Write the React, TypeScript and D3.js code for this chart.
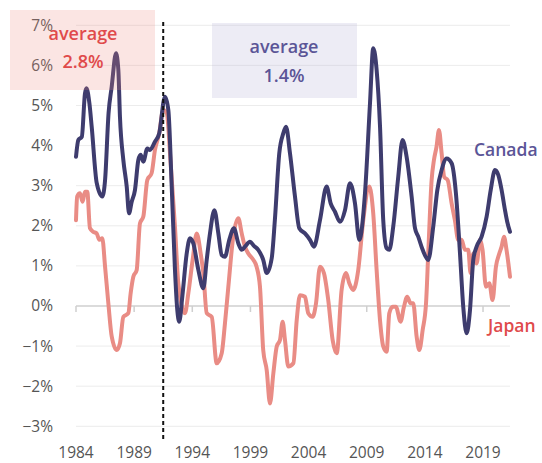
import * as React from "react";
import * as d3 from "d3";

// [decimal year, %]
const canada: [number, number][] = [
  [1984.0, 3.72], [1984.2, 4.14], [1984.5, 4.22], [1984.77, 5.3], [1984.9, 5.43],
  [1985.15, 5.06], [1985.35, 4.47], [1985.78, 3.07], [1986.26, 2.73], [1986.5, 3.14],
  [1986.8, 4.81], [1987.07, 5.47], [1987.44, 6.3], [1987.64, 5.89], [1987.78, 4.72],
  [1988.07, 3.64], [1988.36, 2.98], [1988.56, 2.31], [1988.79, 2.6], [1989.07, 2.89],
  [1989.36, 3.64], [1989.56, 3.77], [1989.79, 3.6], [1990.13, 3.93], [1990.36, 3.89],
  [1990.79, 4.1], [1991.16, 4.31], [1991.65, 5.22], [1991.94, 4.89], [1992.23, 2.98],
  [1992.51, 0.9], [1992.71, -0.1], [1992.88, -0.39], [1993.14, 0.23], [1993.52, 1.31],
  [1993.8, 1.69], [1994.09, 1.56], [1994.52, 0.9], [1994.95, 0.44], [1995.24, 1.15],
  [1995.52, 1.81], [1995.9, 2.39], [1996.24, 1.81], [1996.53, 1.27], [1996.81, 1.23],
  [1997.18, 1.65], [1997.58, 1.94], [1997.96, 1.56], [1998.25, 1.4], [1998.53, 1.48],
  [1998.96, 1.6], [1999.3, 1.5], [1999.67, 1.4], [2000.1, 1.15], [2000.4, 0.82],
  [2000.83, 1.19], [2001.1, 2.14], [2001.48, 3.81], [2001.83, 4.31], [2002.06, 4.47],
  [2002.4, 3.81], [2002.83, 2.73], [2003.2, 1.94], [2003.69, 1.81], [2004.12, 1.65],
  [2004.46, 1.48], [2004.98, 2.14], [2005.55, 2.98], [2005.9, 2.56], [2006.27, 2.35],
  [2006.7, 2.1], [2007.13, 2.39], [2007.56, 3.06], [2007.99, 2.56], [2008.36, 1.65],
  [2008.85, 2.81], [2009.28, 5.05], [2009.56, 6.43], [2009.85, 5.89], [2010.14, 4.5],
  [2010.42, 2.14], [2010.71, 1.44], [2010.94, 1.4], [2011.28, 1.98], [2011.71, 3.22],
  [2012.08, 4.14], [2012.43, 3.72], [2012.86, 2.73], [2013.15, 1.94], [2013.43, 1.73],
  [2013.81, 1.4], [2014.29, 1.15], [2014.72, 1.98], [2015.07, 2.89], [2015.44, 3.39],
  [2015.87, 3.68], [2016.3, 3.56], [2016.67, 2.81], [2017.02, 1.31], [2017.3, -0.02],
  [2017.59, -0.68], [2017.88, -0.1], [2018.16, 1.15], [2018.45, 1.48], [2018.88, 1.73],
  [2019.31, 2.23], [2019.66, 2.89], [2020.03, 3.39], [2020.31, 3.27], [2020.6, 2.89],
  [2020.89, 2.39], [2021.08, 2.1], [2021.32, 1.85],
];

const japan: [number, number][] = [
  [1984.0, 2.14], [1984.1, 2.73], [1984.34, 2.81], [1984.57, 2.6], [1984.77, 2.85],
  [1984.97, 2.85], [1985.2, 1.94], [1985.49, 1.85], [1985.78, 1.81], [1986.0, 1.65],
  [1986.26, 1.69], [1986.5, 0.98], [1986.78, 0.07], [1987.07, -0.76], [1987.5, -1.1],
  [1987.78, -0.93], [1988.07, -0.27], [1988.5, -0.18], [1988.7, 0.32], [1988.93, 0.73],
  [1989.22, 0.9], [1989.5, 2.06], [1989.79, 2.23], [1990.13, 3.14], [1990.5, 3.31],
  [1990.79, 3.89], [1991.16, 4.31], [1991.5, 4.89], [1991.8, 4.81], [1992.14, 3.56],
  [1992.51, 1.98], [1992.8, 0.57], [1993.37, -0.18], [1993.66, 0.32], [1994.03, 1.15],
  [1994.38, 1.81], [1994.72, 1.31], [1994.95, 0.82], [1995.24, -0.18], [1995.67, -0.27],
  [1996.1, -1.43], [1996.53, -1.18], [1996.81, -0.43], [1997.1, 0.48], [1997.52, 1.73],
  [1997.96, 2.19], [1998.25, 1.81], [1998.53, 1.48], [1998.82, 1.31], [1999.25, 1.15],
  [1999.53, 0.98], [1999.82, 0.48], [2000.1, -1.1], [2000.4, -1.6], [2000.68, -2.43],
  [2000.97, -1.68], [2001.26, -1.01], [2001.54, -0.85], [2001.77, -0.39], [2001.97, -0.85],
  [2002.26, -1.51], [2002.69, -1.43], [2002.98, -0.35], [2003.26, 0.27], [2003.69, 0.23],
  [2003.97, -0.18], [2004.35, -0.27], [2004.64, 0.07], [2004.98, 0.98], [2005.32, 0.82],
  [2005.69, 0.15], [2006.07, -0.85], [2006.42, -1.18], [2006.84, 0.4], [2007.22, 0.82],
  [2007.5, 0.57], [2007.84, 0.4], [2008.27, 0.9], [2008.7, 2.14], [2009.22, 2.98],
  [2009.56, 2.31], [2009.85, 0.9], [2010.14, -0.35], [2010.42, -1.01], [2010.71, -1.14],
  [2010.94, -0.18], [2011.23, -0.02], [2011.51, -0.02], [2011.91, -0.39], [2012.2, -0.02],
  [2012.48, 0.23], [2012.77, 0.07], [2013.0, 0.07], [2013.29, -0.76], [2013.52, -1.1],
  [2013.81, -0.6], [2014.1, 0.07], [2014.29, 1.31], [2014.58, 3.14], [2014.78, 3.64],
  [2015.0, 3.97], [2015.21, 4.39], [2015.44, 3.81], [2015.66, 3.22], [2015.96, 3.14],
  [2016.3, 2.56], [2016.58, 2.14], [2016.87, 1.65], [2017.16, 1.65], [2017.45, 1.4],
  [2017.73, 1.4], [2017.93, 0.82], [2018.16, 1.31], [2018.45, 1.06], [2018.74, 1.65],
  [2018.96, 1.4], [2019.25, 0.48], [2019.54, 0.57], [2019.82, 0.15], [2020.11, 0.98],
  [2020.4, 1.31], [2020.6, 1.48], [2020.8, 1.73], [2021.02, 1.4], [2021.32, 0.73],
];

const yearTicks = [1984, 1989, 1994, 1999, 2004, 2009, 2014, 2019];
const pctTicks = [-3, -2, -1, 0, 1, 2, 3, 4, 5, 6, 7];
const regimeBreak = 1991.5;
const averages = { japan: "2.8%", canada: "1.4%" };

const width = 542;
const height = 463;
const font = "'Open Sans', sans-serif";

export default function App() {
  const x = d3.scaleLinear().domain([1984, 2021.32]).range([76, 510]);
  const y = d3.scaleLinear().domain([-3, 7]).range([426.3, 25.3]);
  const line = d3
    .line<[number, number]>()
    .x((d) => x(d[0]))
    .y((d) => y(d[1]))
    .curve(d3.curveMonotoneX);

  const fmt = (v: number) => (v < 0 ? "\u2212" + Math.abs(v) : String(v)) + "%";

  return (
    <svg
      width={width}
      height={height}
      style={{ position: "absolute", left: 0, top: 0, background: "#fff" }}
      fontFamily={font}
    >
      {pctTicks.map((t) => (
        <g key={t}>
          <line
            x1={x.range()[0]}
            x2={x.range()[1]}
            y1={y(t)}
            y2={y(t)}
            stroke={t === 0 ? "#cfcfcf" : "#ececec"}
            strokeWidth={t === 0 ? 1.5 : 1}
          />
          <text x={53} y={y(t)} dy="0.35em" textAnchor="end" fontSize={15.5} fill="#555">
            {fmt(t)}
          </text>
        </g>
      ))}
      {yearTicks.map((t) => (
        <g key={t}>
          <line x1={x(t)} x2={x(t)} y1={y(0)} y2={y(0) + 6} stroke="#cfcfcf" strokeWidth={1.5} />
          <text x={x(t)} y={458} textAnchor="middle" fontSize={15.5} fill="#555">
            {t}
          </text>
        </g>
      ))}

      <path
        d={line(japan) ?? ""}
        fill="none"
        stroke="#e98c85"
        strokeWidth={4}
        strokeLinejoin="round"
        strokeLinecap="round"
      />
      <path
        d={line(canada) ?? ""}
        fill="none"
        stroke="#3e3c6e"
        strokeWidth={4}
        strokeLinejoin="round"
        strokeLinecap="round"
      />

      <line
        x1={x(regimeBreak)}
        x2={x(regimeBreak)}
        y1={22}
        y2={440}
        stroke="#111"
        strokeWidth={2}
        strokeDasharray="4,3"
      />

      <rect x={10} y={10} width={145} height={80} fill="#ee8a80" fillOpacity={0.22} />
      <text x={83} y={40} textAnchor="middle" fontSize={18} fontWeight={600} fill="#e04a4b">
        average
      </text>
      <text x={83} y={68} textAnchor="middle" fontSize={18} fontWeight={600} fill="#e04a4b">
        {averages.japan}
      </text>

      <rect x={212} y={23} width={145} height={75} fill="#b8b4d6" fillOpacity={0.25} />
      <text x={284} y={53} textAnchor="middle" fontSize={18} fontWeight={600} fill="#5b5597">
        average
      </text>
      <text x={284} y={82} textAnchor="middle" fontSize={18} fontWeight={600} fill="#5b5597">
        {averages.canada}
      </text>

      <text x={474} y={156} fontSize={17.5} fontWeight={600} fill="#5b5597">
        Canada
      </text>
      <text x={488} y={332} fontSize={17.5} fontWeight={600} fill="#e04a4b">
        Japan
      </text>
    </svg>
  );
}
